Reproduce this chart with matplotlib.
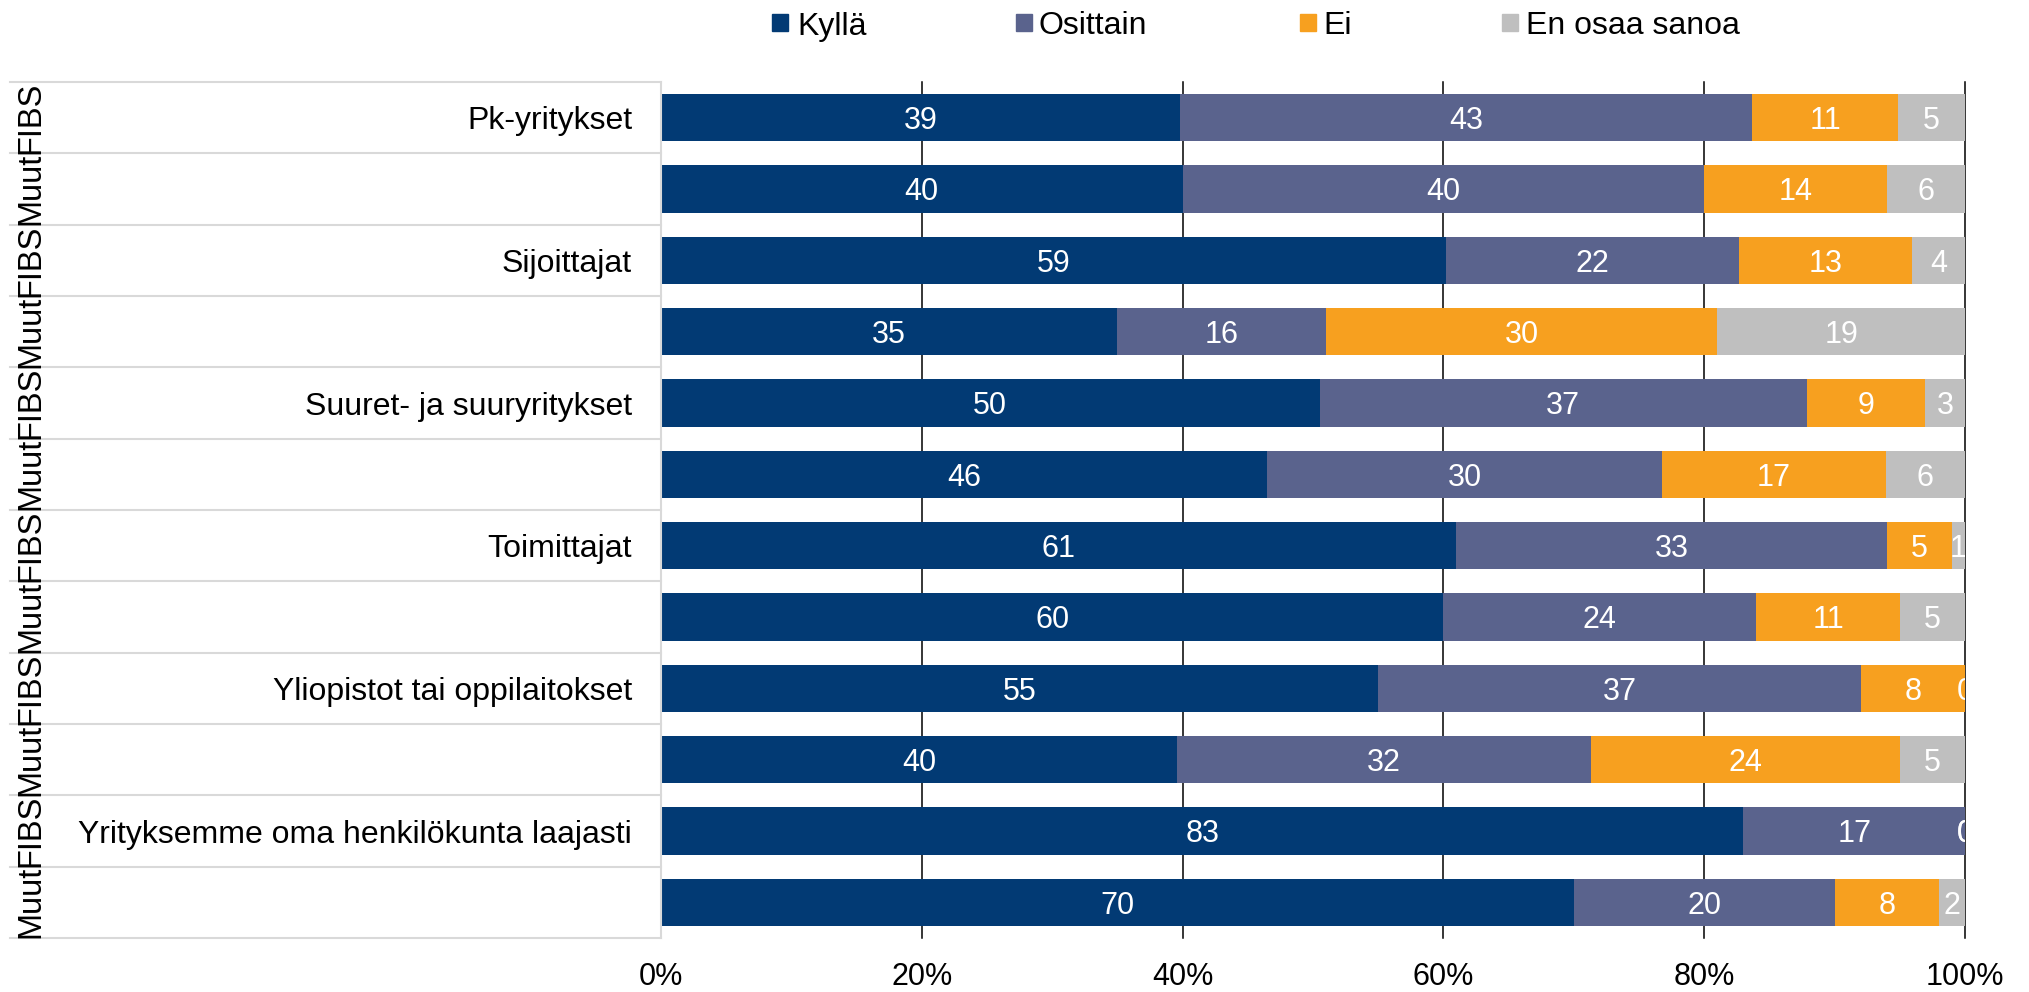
import numpy as np
import matplotlib
matplotlib.use("Agg")
import matplotlib.pyplot as plt
from matplotlib.patches import Rectangle

plt.rcParams['font.family'] = ['Liberation Sans', 'DejaVu Sans']

# Stakeholder groups; each has a FIBS row followed by a "Muut" row
groups = ["Pk-yritykset", "Sijoittajat", "Suuret- ja suuryritykset",
          "Toimittajat", "Yliopistot tai oppilaitokset",
          "Yrityksemme oma henkilökunta laajasti"]
subgroups = ["FIBS", "Muut"]

series = ["Kyllä", "Osittain", "Ei", "En osaa sanoa"]
colors = ["#023A74", "#5A638D", "#F7A01F", "#BFBFBF"]

kylla    = [39, 40, 59, 35, 50, 46, 61, 60, 55, 40, 83, 70]
osittain = [43, 40, 22, 16, 37, 30, 33, 24, 37, 32, 17, 20]
ei       = [11, 14, 13, 30,  9, 17,  5, 11,  8, 24,  0,  8]
eos      = [ 5,  6,  4, 19,  3,  6,  1,  5,  0,  5,  0,  2]

xticks = [0, 20, 40, 60, 80, 100]
xticklabels = ["0%", "20%", "40%", "60%", "80%", "100%"]

W, H = 2029, 992
fig = plt.figure(figsize=(W / 100, H / 100), dpi=100)

top_px, bot_px = 82, 938
left_px, right_px = 661, 1965
ax = fig.add_axes([left_px / W, 1 - bot_px / H, (right_px - left_px) / W, (bot_px - top_px) / H])
tab = fig.add_axes([0, 1 - bot_px / H, left_px / W, (bot_px - top_px) / H])

data = np.array([kylla, osittain, ei, eos], dtype=float)
totals = data.sum(axis=0)
shares = data / totals * 100
n = data.shape[1]
ypos = np.arange(n) + 0.5

lefts = np.zeros(n)
for j, name in enumerate(series):
    ax.barh(ypos, shares[j], left=lefts, height=0.66, color=colors[j],
            label=name, zorder=2)
    for i in range(n):
        ax.text(lefts[i] + shares[j][i] / 2, ypos[i], f"{int(data[j][i])}",
                ha="center", va="center_baseline", color="white",
                fontsize=22, clip_on=True, zorder=3)
    lefts = lefts + shares[j]

ax.set_xlim(0, 100)
ax.set_ylim(n, 0)
for xv in xticks[1:]:
    ax.axvline(xv, color="black", lw=1.1, zorder=1, clip_on=False)
ax.set_xticks(xticks)
ax.set_xticklabels(xticklabels, fontsize=22)
ax.tick_params(axis="x", length=0, pad=17)
ax.set_yticks([])
for s in ["top", "right", "bottom"]:
    ax.spines[s].set_visible(False)
ax.spines["left"].set_color("#D9D9D9")
ax.spines["left"].set_linewidth(1.5)

# Category table on the left
tab.set_xlim(0, left_px)
tab.set_ylim(n, 0)
tab.axis("off")
for k in range(n + 1):
    tab.plot([10, left_px], [k, k], color="#D9D9D9", lw=1.5, clip_on=False)
for g, name in enumerate(groups):
    tab.text(632, 2 * g + 0.5, name, ha="right", va="center_baseline",
             fontsize=23, color="black")
for i in range(n):
    tab.text(31, i + 0.5, subgroups[i % 2], rotation=90, ha="center",
             va="center", fontsize=23.5, color="black", clip_on=False)

# Legend row along the top edge
legend_items = [(772, 797), (1016, 1039), (1300, 1323), (1502, 1526)]
for (sq_x, tx_x), name, col in zip(legend_items, series, colors):
    fig.add_artist(Rectangle((sq_x / W, 1 - 31 / H), 16 / W, 17 / H,
                             transform=fig.transFigure, color=col))
    fig.text(tx_x / W, 1 - 23 / H, name, ha="left", va="center_baseline",
             fontsize=23, color="black")

fig.savefig("out.png", dpi=100)
